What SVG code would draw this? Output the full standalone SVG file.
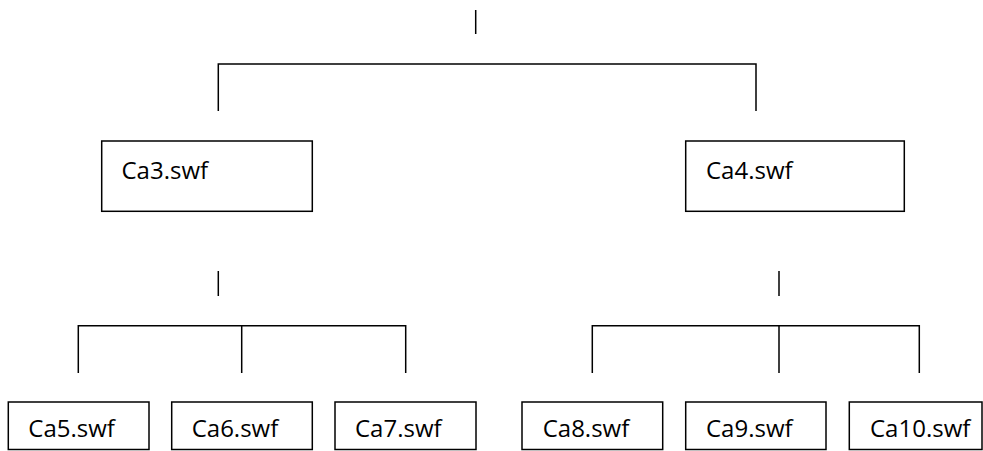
<svg xmlns="http://www.w3.org/2000/svg" width="983" height="451" viewBox="0 0 983 451">
  <style>
    .box { fill: #ffffff; stroke: #000000; stroke-width: 1.5; }
    .label { font-family: "Open Sans", "Liberation Sans", sans-serif; font-size: 24px; fill: #000000; }
    .wire { fill: none; stroke: #000000; stroke-width: 1.5; }
  </style>
  <rect x="0" y="0" width="983" height="451" fill="#ffffff"/>

  <!-- connectors -->
  <g id="connectors">
    <line class="wire" x1="475.7" y1="10" x2="475.7" y2="34"/>
    <path class="wire" d="M218.3,111 V64 H756 V111"/>

    <line class="wire" x1="218.3" y1="271" x2="218.3" y2="296"/>
    <path class="wire" d="M78.3,373 V325.7 H405.7 V373 M241.7,325.7 V373"/>

    <line class="wire" x1="779" y1="271" x2="779" y2="296"/>
    <path class="wire" d="M592.3,373 V325.7 H919.3 V373 M779,325.7 V373"/>
  </g>

  <!-- level 1 -->
  <g id="ca3">
    <rect class="box" x="101.7" y="141" width="210.6" height="70.3"/>
    <text class="label" x="121.5" y="179">Ca3.swf</text>
  </g>
  <g id="ca4">
    <rect class="box" x="685.7" y="141" width="218.6" height="70.3"/>
    <text class="label" x="706" y="179">Ca4.swf</text>
  </g>

  <!-- level 2 -->
  <g id="ca5">
    <rect class="box" x="8.3" y="402" width="140.7" height="47.5"/>
    <text class="label" x="28.3" y="436.7">Ca5.swf</text>
  </g>
  <g id="ca6">
    <rect class="box" x="171.7" y="402" width="140.6" height="47.5"/>
    <text class="label" x="191.7" y="436.7">Ca6.swf</text>
  </g>
  <g id="ca7">
    <rect class="box" x="335" y="402" width="141" height="47.5"/>
    <text class="label" x="355" y="436.7">Ca7.swf</text>
  </g>
  <g id="ca8">
    <rect class="box" x="522" y="402" width="140.7" height="47.5"/>
    <text class="label" x="542.7" y="436.7">Ca8.swf</text>
  </g>
  <g id="ca9">
    <rect class="box" x="685.7" y="402" width="140.3" height="47.5"/>
    <text class="label" x="706" y="436.7">Ca9.swf</text>
  </g>
  <g id="ca10">
    <rect class="box" x="849.3" y="402" width="132.7" height="47.5"/>
    <text class="label" x="870" y="436.7">Ca10.swf</text>
  </g>
</svg>
